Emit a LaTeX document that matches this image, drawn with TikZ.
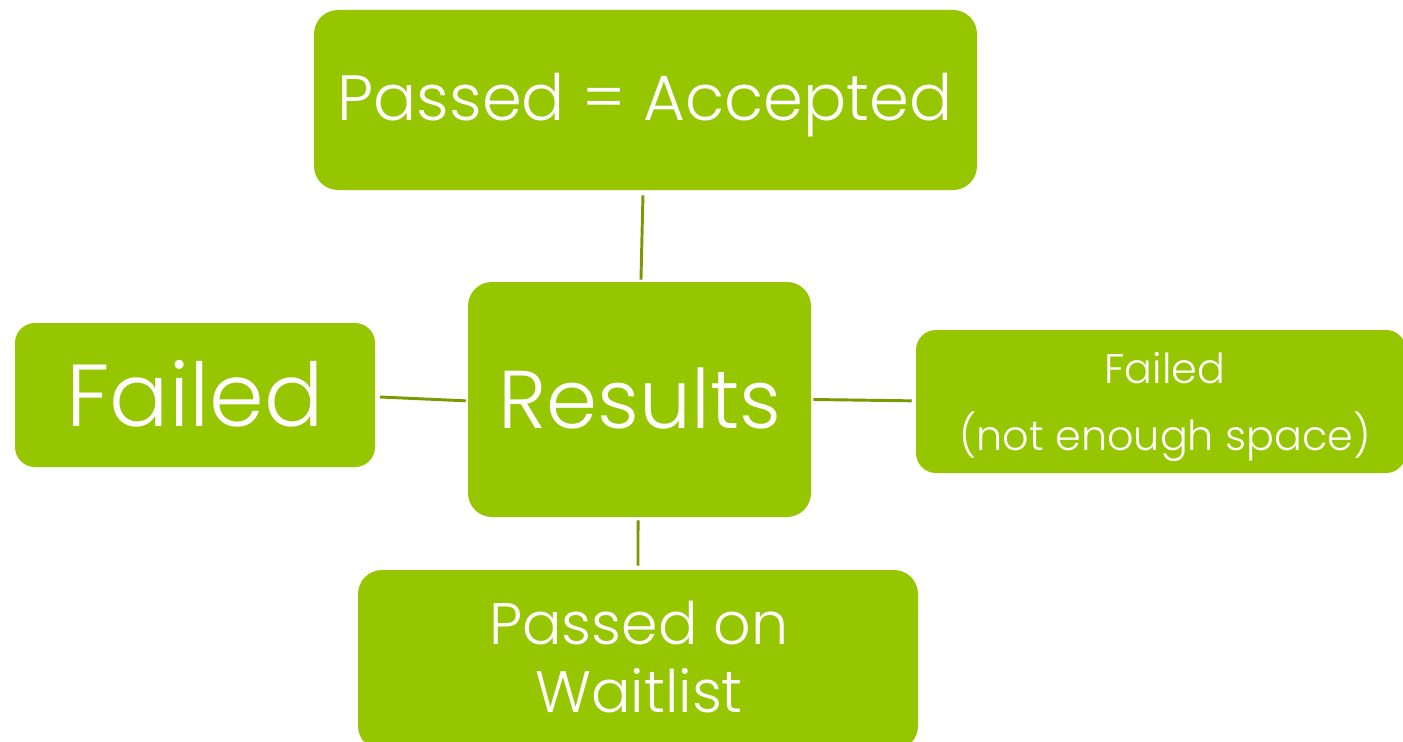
\documentclass[tikz,border=0pt]{standalone}
\usepackage{fontspec}
\setmainfont{Poppins}[UprightFont=* Light]
\definecolor{boxgreen}{HTML}{96C600}
\definecolor{linegreen}{HTML}{7A9A01}
\begin{document}
\begin{tikzpicture}[x=0.75pt,y=-0.75pt,
  box/.style={fill=boxgreen,rounded corners=18pt,inner sep=0pt,draw=none},
  lbl/.style={text=white,align=center,inner sep=0pt},
  conn/.style={draw=linegreen,line width=2.2pt}]
\useasboundingbox (0,0) rectangle (1403,742);
\clip (0,0) rectangle (1403,742);
\node[box,minimum width=663*0.75pt,minimum height=180*0.75pt] (acc) at (645.5,100) {};
\node[box,minimum width=343*0.75pt,minimum height=235*0.75pt] (res) at (639.5,399.5) {};
\node[box,minimum width=360*0.75pt,minimum height=144*0.75pt,rounded corners=15pt] (fail) at (195,395) {};
\node[box,minimum width=490*0.75pt,minimum height=143*0.75pt,rounded corners=15pt] (fns) at (1161,401.5) {};
\node[box,minimum width=560*0.75pt,minimum height=180*0.75pt] (wait) at (638,660) {};
\node[lbl,font=\fontsize{48}{58}\selectfont] (tacc) at (645,105) {Passed = Accepted};
\node[lbl,font=\fontsize{61.5}{74}\selectfont] (tres) at (640,399) {Results};
\node[lbl,font=\fontsize{66}{78}\selectfont] (tfail) at (195,394) {Failed};
\node[lbl,font=\fontsize{31}{50}\selectfont] (tfns) at (1165,407) {Failed\\(not enough space)};
\node[lbl,font=\fontsize{44}{51}\selectfont] (twait) at (639,657) {Passed on\\Waitlist};
\draw[conn] ([xshift=-1.9pt,yshift=-3.75pt]acc.south) -- ([xshift=1.1pt,yshift=1.5pt]res.north);
\draw[conn] ([xshift=3.5pt,yshift=-1.5pt]fail.east) -- ([xshift=-1.5pt,yshift=-1pt]res.west);
\draw[conn] ([xshift=1.5pt]res.east) -- ([xshift=-3pt,yshift=0.5pt]fns.west);
\draw[conn] ([xshift=-1.1pt,yshift=-2.25pt]res.south) -- ([yshift=3pt]wait.north);
\end{tikzpicture}
\end{document}
